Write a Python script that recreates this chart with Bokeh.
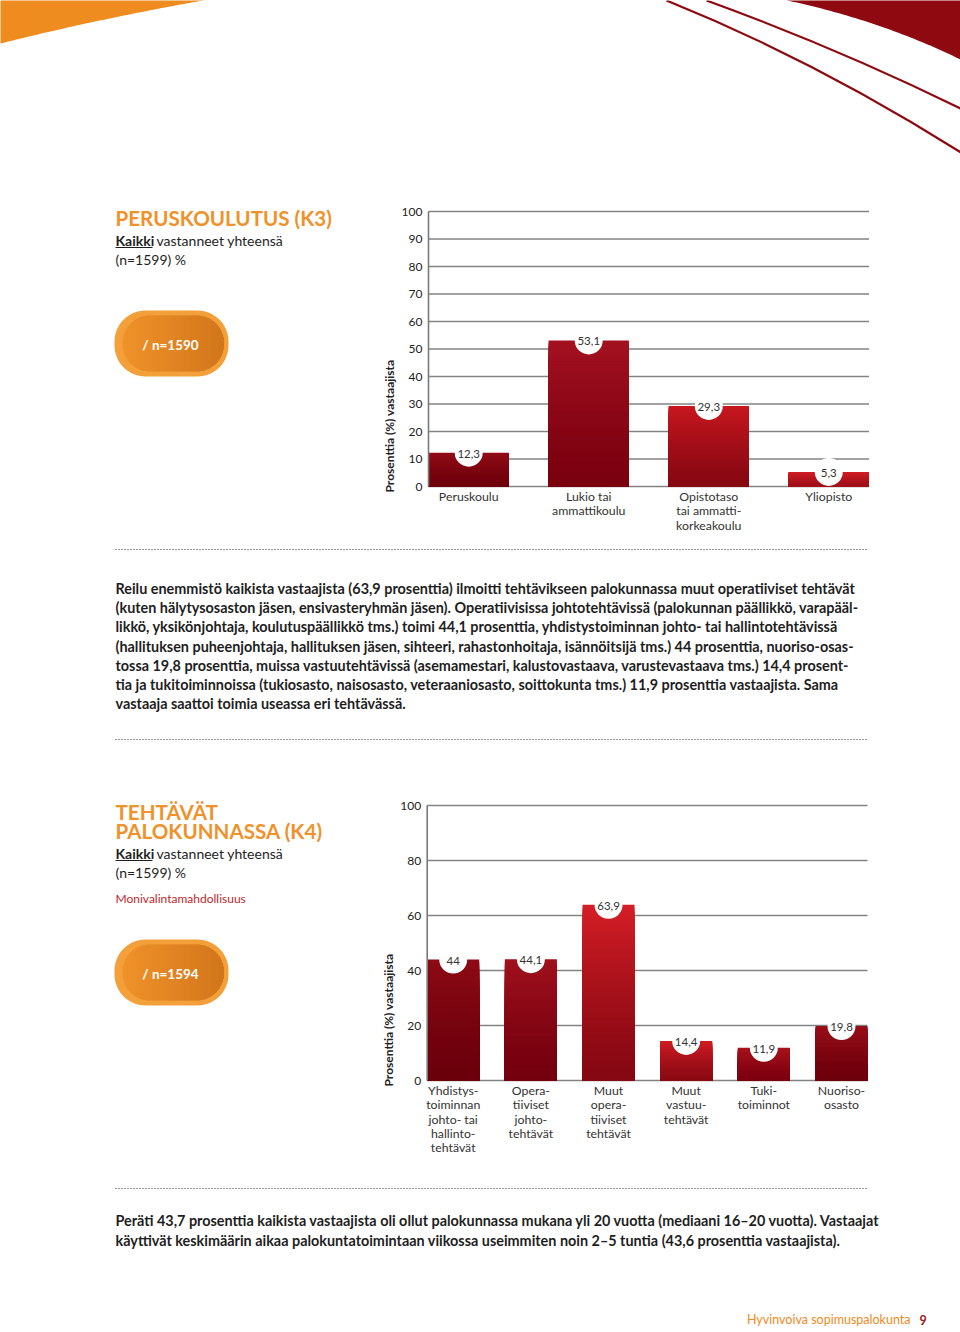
import numpy as np
from bokeh.plotting import figure
from bokeh.models import Range1d
from bokeh.core.properties import value
from bokeh.embed import file_html
from bokeh.resources import INLINE

# ---------------- data ----------------
edu_categories = ["Peruskoulu", "Lukio tai\nammattikoulu",
                  "Opistotaso\ntai ammatti-\nkorkeakoulu", "Yliopisto"]
edu_values = [12.3, 53.1, 29.3, 5.3]
edu_ticks = [0, 10, 20, 30, 40, 50, 60, 70, 80, 90, 100]

task_categories = ["Yhdistys-\ntoiminnan\njohto- tai\nhallinto-\ntehtävät",
                   "Opera-\ntiiviset\njohto-\ntehtävät",
                   "Muut\nopera-\ntiiviset\ntehtävät",
                   "Muut\nvastuu-\ntehtävät",
                   "Tuki-\ntoiminnot",
                   "Nuoriso-\nosasto"]
task_values = [44, 44.1, 63.9, 14.4, 11.9, 19.8]
task_ticks = [0, 20, 40, 60, 80, 100]

axis_title = "Prosenttia (%) vastaajista"
title1 = "PERUSKOULUTUS (K3)"
title2 = ["TEHTÄVÄT", "PALOKUNNASSA (K4)"]
sub_bold = "Kaikki"
sub_rest = "vastanneet yhteensä"
sub_n = "(n=1599) %"
multi_note = "Monivalintamahdollisuus"
pill1_text = "/ n=1590"
pill2_text = "/ n=1594"
para1 = [
    "Reilu enemmistö kaikista vastaajista (63,9 prosenttia) ilmoitti tehtävikseen palokunnassa muut operatiiviset tehtävät",
    "(kuten hälytysosaston jäsen, ensivasteryhmän jäsen). Operatiivisissa johtotehtävissä (palokunnan päällikkö, varapääl-",
    "likkö, yksikönjohtaja, koulutuspäällikkö tms.) toimi 44,1 prosenttia, yhdistystoiminnan johto- tai hallintotehtävissä",
    "(hallituksen puheenjohtaja, hallituksen jäsen, sihteeri, rahastonhoitaja, isännöitsijä tms.) 44 prosenttia, nuoriso-osas-",
    "tossa 19,8 prosenttia, muissa vastuutehtävissä (asemamestari, kalustovastaava, varustevastaava tms.) 14,4 prosent-",
    "tia ja tukitoiminnoissa (tukiosasto, naisosasto, veteraaniosasto, soittokunta tms.) 11,9 prosenttia vastaajista. Sama",
    "vastaaja saattoi toimia useassa eri tehtävässä.",
]
para2 = [
    "Peräti 43,7 prosenttia kaikista vastaajista oli ollut palokunnassa mukana yli 20 vuotta (mediaani 16–20 vuotta). Vastaajat",
    "käyttivät keskimäärin aikaa palokuntatoimintaan viikossa useimmiten noin 2–5 tuntia (43,6 prosenttia vastaajista).",
]
footer_text = "Hyvinvoiva sopimuspalokunta"
page_no = "9"

# ---------------- styles ----------------
FONT = value("Lato")
ORANGE = "#f0912a"
DARKRED = "#8f0a10"
TEXT = "#1e1e1e"
edu_top = ["#920c17", "#a31120", "#c8171f", "#d21d25"]
edu_bot = ["#6d000b", "#7a0010", "#880812", "#a0101a"]
task_top = ["#8c0a15", "#a0101d", "#d41e26", "#cf1b23", "#a8121c", "#980e19"]
task_bot = ["#6a000b", "#74000e", "#860812", "#8c0a14", "#7c000f", "#6c000b"]

SX0, SX1, SY0, SY1 = 0, 960, 0, 1332

p = figure(width=SX1 - SX0, height=SY1 - SY0,
           x_range=Range1d(SX0, SX1), y_range=Range1d(SY1, SY0),
           output_backend="svg", toolbar_location=None,
           x_axis_location=None, y_axis_location=None,
           min_border=0, outline_line_color=None)
p.xgrid.grid_line_color = None
p.ygrid.grid_line_color = None
p.background_fill_color = "white"
p.border_fill_color = "white"


def mapped_range(d_a, d_b, s_a, s_b, s_lo, s_hi):
    k = (d_b - d_a) / (s_b - s_a)
    return Range1d(start=d_a + (s_lo - s_a) * k, end=d_a + (s_hi - s_a) * k)


def hex2rgb(h):
    h = h.lstrip("#")
    return np.array([int(h[i:i + 2], 16) for i in (0, 2, 4)], dtype=float)


def mix(c1, c2, t):
    a, b = hex2rgb(c1), hex2rgb(c2)
    c = a + (b - a) * t
    return "#%02x%02x%02x" % tuple(int(round(v)) for v in c)


def qbez(p0, c, p2, n=60):
    t = np.linspace(0, 1, n)
    x = (1 - t) ** 2 * p0[0] + 2 * (1 - t) * t * c[0] + t ** 2 * p2[0]
    y = (1 - t) ** 2 * p0[1] + 2 * (1 - t) * t * c[1] + t ** 2 * p2[1]
    return list(x), list(y)


def fmt(v):
    return f"{v:g}".replace(".", ",")


# ---------------- decorations ----------------
ox, oy = qbez((203, 0), (100, 18), (0, 43))
p.patch([210] + ox + [-10, -10], [-5] + oy + [45, -5], fill_color="#ef8c1f", line_color=None)
rx, ry = qbez((787, 0), (880, 20), (960, 59))
p.patch([780] + rx + [970, 970], [-5] + ry + [60, -5], fill_color=DARKRED, line_color=None)
p.quadratic(x0=[706, 666], y0=[0, 0], x1=[962, 962], y1=[109, 153],
            cx=[838, 815], cy=[48, 60], line_color=DARKRED, line_width=2.2)


def rrect_pts(x0, y0, x1, y1, r, n=16):
    xs, ys = [], []
    for cx, cy, a0 in [(x1 - r, y0 + r, -np.pi / 2), (x1 - r, y1 - r, 0),
                       (x0 + r, y1 - r, np.pi / 2), (x0 + r, y0 + r, np.pi)]:
        a = np.linspace(a0, a0 + np.pi / 2, n)
        xs += list(cx + r * np.cos(a))
        ys += list(cy + r * np.sin(a))
    return xs, ys


def pill(x0, y0, x1, y1, r, ix0, iy0, ix1, iy1, ir, label, cy):
    xs, ys = rrect_pts(x0, y0, x1, y1, r)
    p.patch(xs, ys, fill_color="#f4a03a", line_color=None)
    L, R, T, B, C = [], [], [], [], []
    step = 1.0
    for x in np.arange(ix0, ix1, step):
        xc = x + step / 2
        if xc < ix0 + ir:
            dx = ix0 + ir - xc
        elif xc > ix1 - ir:
            dx = xc - (ix1 - ir)
        else:
            dx = 0
        dy = ir - np.sqrt(max(ir * ir - dx * dx, 0))
        L.append(x)
        R.append(x + step + 0.6)
        T.append(iy0 + dy)
        B.append(iy1 - dy)
        C.append(mix("#f0922a", "#d2761b", (xc - ix0) / (ix1 - ix0)))
    p.quad(left=L, right=R, top=T, bottom=B, fill_color=C, line_color=None)
    p.text(x=[(x0 + x1) / 2 - 1], y=[cy], text=[label], text_font=FONT, text_font_size="13.5px",
           text_font_style="bold", text_color="white", text_align="center", text_baseline="middle")


pill(114, 310, 228, 376, 31, 122, 315, 223, 371, 27, pill1_text, 344)
pill(114, 939, 228, 1005, 31, 122, 944, 223, 1000, 27, pill2_text, 973)


# ---------------- left texts ----------------
def txt(x, y, s, size, color=TEXT, bold=False, align="left"):
    p.text(x=[x], y=[y], text=[s], text_font=FONT, text_font_size=size,
           text_font_style="bold" if bold else "normal", text_color=color,
           text_align=align, text_baseline="middle")


def subtitle(cy):
    txt(115, cy, sub_bold, "14px", bold=True)
    p.segment(x0=[115], y0=[cy + 7], x1=[152], y1=[cy + 7], line_color=TEXT, line_width=1.2)
    txt(156, cy, sub_rest, "14px")
    txt(115, cy + 19, sub_n, "14px")


txt(115, 217, title1, "20.6px", color=ORANGE, bold=True)
subtitle(240)

txt(115, 811, title2[0], "20.6px", color=ORANGE, bold=True)
txt(115, 830.5, title2[1], "20.6px", color=ORANGE, bold=True)
subtitle(853)
txt(115, 898, multi_note, "12px", color="#c0272d")

# paragraphs
for i, line in enumerate(para1):
    txt(115, 588 + 19.2 * i, line, "14.4px", bold=True)
for i, line in enumerate(para2):
    txt(115, 1220 + 19.5 * i, line, "14.4px", bold=True)

# dotted separators
p.segment(x0=[115, 115, 115], y0=[549, 739, 1188], x1=[868, 868, 868], y1=[549, 739, 1188],
          line_color="#333333", line_width=1.1, line_dash="1 2")

# footer
txt(910, 1319, footer_text, "12.5px", color="#ef8a1e", align="right")
txt(919, 1319, page_no, "12.5px", color="#9b1b1f", bold=True)


# ---------------- charts ----------------
def chart(key, cats, vals, ticks, sx_left, sx_right, sy0, sy100, tops, bots):
    n = len(cats)
    w = 0.67
    xa, xb = -w / 2, n - 1 + w / 2
    p.extra_x_ranges[key + "x"] = mapped_range(xa, xb, sx_left, sx_right, SX0, SX1)
    p.extra_y_ranges[key + "y"] = mapped_range(0, 100, sy0, sy100, SY1, SY0)
    kw = dict(x_range_name=key + "x", y_range_name=key + "y")
    # gridlines
    p.segment(x0=[xa] * len(ticks), x1=[xb] * len(ticks), y0=ticks, y1=ticks,
              line_color="#838383", line_width=1.3, **kw)
    # gradient bars
    N = 48
    L, R, T, C = [], [], [], []
    for i, v in enumerate(vals):
        for k in range(N - 1, -1, -1):
            L.append(i - w / 2)
            R.append(i + w / 2)
            T.append(v * (k + 1) / N)
            C.append(mix(bots[i], tops[i], (k / (N - 1)) ** 1.3))
    p.quad(left=L, right=R, top=T, bottom=[0] * len(T), fill_color=C, line_color=None, **kw)
    # axis line
    p.segment(x0=[xa], y0=[0], x1=[xa], y1=[max(ticks)], line_color="#7a7a7a", line_width=1.6, **kw)
    # tick labels
    p.text(x=[xa] * len(ticks), y=ticks, text=[str(t) for t in ticks], x_offset=-6,
           text_font=FONT, text_font_size="12px", text_color="#222222",
           text_align="right", text_baseline="middle", **kw)
    # value bubbles
    xs = list(range(n))
    p.scatter(x=xs, y=vals, size=28, marker="circle", fill_color="white", line_color=None, **kw)
    p.text(x=xs, y=vals, text=[fmt(v) for v in vals], y_offset=1, text_font=FONT,
           text_font_size="11.5px", text_color="#333333", text_align="center",
           text_baseline="middle", **kw)
    # category labels
    p.text(x=xs, y=[0] * n, text=cats, y_offset=2.5, text_font=FONT, text_font_size="12.3px",
           text_color="#333333", text_align="center", text_baseline="top",
           text_line_height=0.95, **kw)
    # axis title
    p.text(x=[xa], y=[0], text=[axis_title], x_offset=-39, y_offset=6, angle=np.pi / 2,
           text_font=FONT, text_font_size="12px", text_font_style="bold", text_color="#222222",
           text_align="left", text_baseline="middle", **kw)


chart("c1", edu_categories, edu_values, edu_ticks, 428, 868.5, 486, 211, edu_top, edu_bot)
chart("c2", task_categories, task_values, task_ticks, 426.7, 867, 1080, 805, task_top, task_bot)

open("out.html", "w").write(file_html(p, INLINE))
